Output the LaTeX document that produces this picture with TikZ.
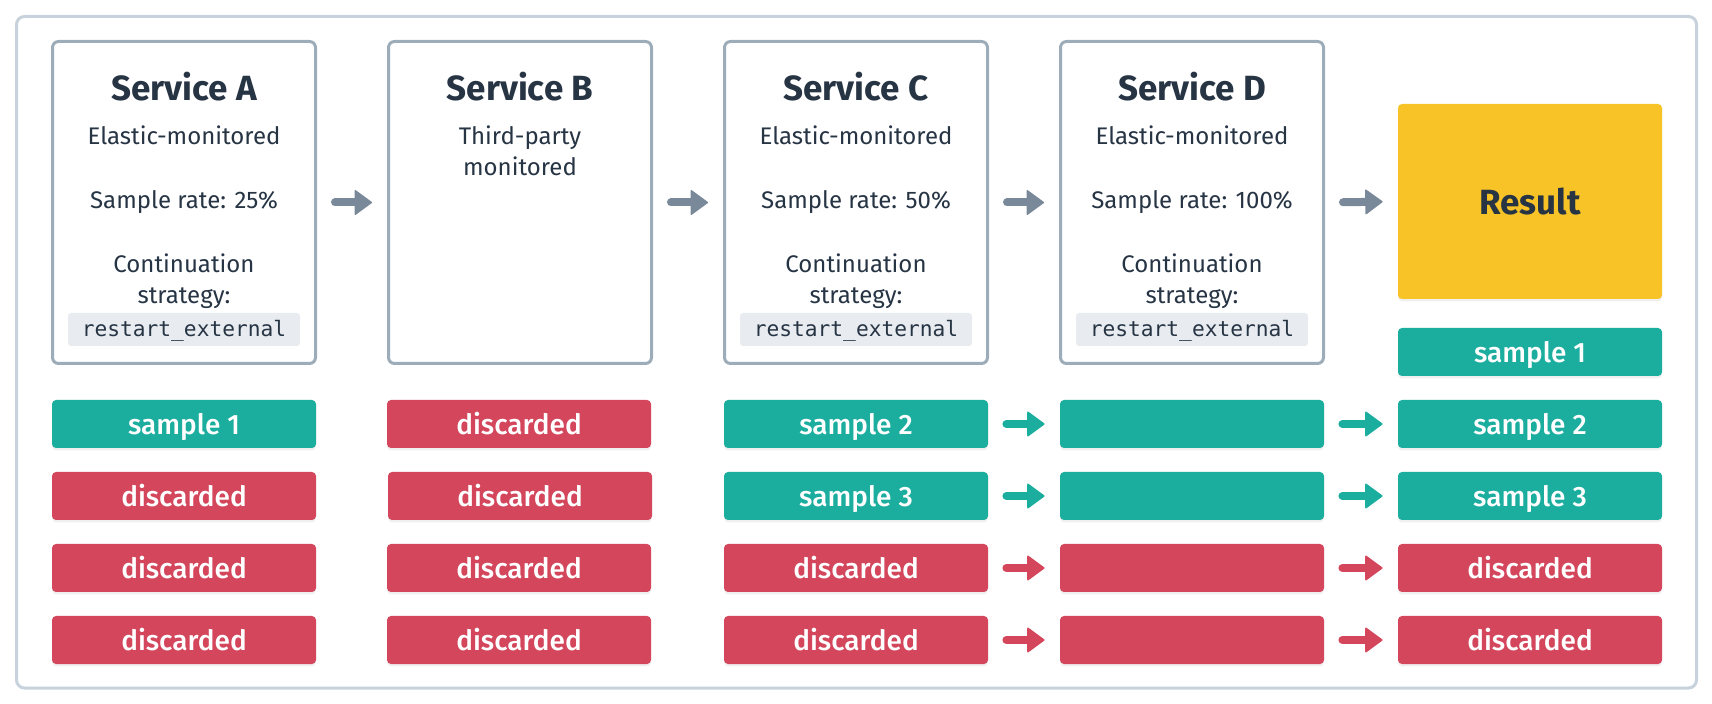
\documentclass[tikz,border=0pt]{standalone}
\usepackage{fontspec}
\setmainfont{Fira Sans}
\newfontfamily\labelfont{Fira Sans Medium}
\newfontfamily\codefont{DejaVu Sans Mono}
\usetikzlibrary{arrows.meta,shadows}
\definecolor{elink}{RGB}{38,52,68}
\definecolor{elborder}{RGB}{157,172,185}
\definecolor{elframe}{RGB}{199,210,220}
\definecolor{elarrow}{RGB}{122,137,153}
\definecolor{elteal}{RGB}{27,174,159}
\definecolor{elred}{RGB}{212,70,92}
\definecolor{elyellow}{RGB}{247,195,38}
\definecolor{elcode}{RGB}{232,236,240}

\begin{document}
\begin{tikzpicture}[x=0.5pt,y=-0.5pt,
  every node/.style={text=elink},
  service/.style={draw=elborder,line width=1.5pt,rounded corners=3pt,fill=white,minimum width=131.5pt,minimum height=161pt},
  title/.style={anchor=base,inner sep=0pt,font=\fontsize{17.5}{21}\selectfont\bfseries},
  body/.style={anchor=base,inner sep=0pt,font=\fontsize{12}{15}\selectfont},
  code/.style={fill=elcode,rounded corners=1.5pt,minimum width=116pt,minimum height=16.5pt,inner sep=0pt,text height=8pt,text depth=0.5pt,font=\codefont\fontsize{10.6}{12}\selectfont},
  soft/.style={drop shadow={shadow xshift=0pt,shadow yshift=-1.2pt,opacity=0.12}},
  result/.style={fill=elyellow,rounded corners=2pt,minimum width=132pt,minimum height=97.5pt,font=\fontsize{17.5}{21}\selectfont\bfseries,soft},
  keep/.style={fill=elteal,rounded corners=2pt,minimum width=132pt,minimum height=24pt,inner sep=0pt,text height=11pt,text depth=0pt,text=white,font=\labelfont\fontsize{14}{16}\selectfont,soft},
  discard/.style={keep,fill=elred},
  flow/.style={line width=4pt,line cap=round,-{Triangle[length=9pt,width=13pt,line width=0.8pt,round]},shorten <=9pt,shorten >=7.5pt}
]
\useasboundingbox (0,0) rectangle (1712,704);
\draw[elframe,line width=1.5pt,rounded corners=4pt] (16.5,16.5) rectangle (1696.5,688);

% services
\node[service] (sa) at (184,202.5) {};
\node[title] (satitle) at (184,101) {Service A};
\node[body] (sadesc) at (184,145) {Elastic-monitored};
\node[body] (sarate) at (184,209) {Sample rate: 25\%};
\node[body] (sacont) at (184,273) {Continuation};
\node[body] (sastrat) at (184,304) {strategy:};
\node[code] (sacode) at (184,329.5) {restart\_external};

\node[service] (sb) at (520,202.5) {};
\node[title] (sbtitle) at (520,101) {Service B};
\node[body] (sbdesc) at (520,145) {Third-party};
\node[body] (sbmon) at (520,176) {monitored};

\node[service] (sc) at (856,202.5) {};
\node[title] (sctitle) at (856,101) {Service C};
\node[body] (scdesc) at (856,145) {Elastic-monitored};
\node[body] (scrate) at (856,209) {Sample rate: 50\%};
\node[body] (sccont) at (856,273) {Continuation};
\node[body] (scstrat) at (856,304) {strategy:};
\node[code] (sccode) at (856,329.5) {restart\_external};

\node[service] (sd) at (1192,202.5) {};
\node[title] (sdtitle) at (1192,101) {Service D};
\node[body] (sddesc) at (1192,145) {Elastic-monitored};
\node[body] (sdrate) at (1192,209) {Sample rate: 100\%};
\node[body] (sdcont) at (1192,273) {Continuation};
\node[body] (sdstrat) at (1192,304) {strategy:};
\node[code] (sdcode) at (1192,329.5) {restart\_external};

\node[result] (res) at (1530,201.5) {Result};

\draw[flow,elarrow] (sa.east) -- (sb.west);
\draw[flow,elarrow] (sb.east) -- (sc.west);
\draw[flow,elarrow] (sc.east) -- (sd.west);
\draw[flow,elarrow] (sd.east) -- (res.west);

% samples
\node[keep] (a1) at (184,424) {sample 1};
\node[discard] (a2) at (184,496) {discarded};
\node[discard] (a3) at (184,568) {discarded};
\node[discard] (a4) at (184,640) {discarded};

\node[discard] (b1) at (519,424) {discarded};
\node[discard] (b2) at (520,496) {discarded};
\node[discard] (b3) at (519,568) {discarded};
\node[discard] (b4) at (519,640) {discarded};

\node[keep] (c1) at (856,424) {sample 2};
\node[keep] (c2) at (856,496) {sample 3};
\node[discard] (c3) at (856,568) {discarded};
\node[discard] (c4) at (856,640) {discarded};

\node[keep] (d1) at (1192,424) {};
\node[keep] (d2) at (1192,496) {};
\node[discard] (d3) at (1192,568) {};
\node[discard] (d4) at (1192,640) {};

\node[keep] (r0) at (1530,352) {sample 1};
\node[keep] (r1) at (1530,424) {sample 2};
\node[keep] (r2) at (1530,496) {sample 3};
\node[discard] (r3) at (1530,568) {discarded};
\node[discard] (r4) at (1530,640) {discarded};

\draw[flow,elteal] (c1.east) -- (d1.west);
\draw[flow,elteal] (d1.east) -- (r1.west);
\draw[flow,elteal] (c2.east) -- (d2.west);
\draw[flow,elteal] (d2.east) -- (r2.west);
\draw[flow,elred] (c3.east) -- (d3.west);
\draw[flow,elred] (d3.east) -- (r3.west);
\draw[flow,elred] (c4.east) -- (d4.west);
\draw[flow,elred] (d4.east) -- (r4.west);
\end{tikzpicture}
\end{document}
